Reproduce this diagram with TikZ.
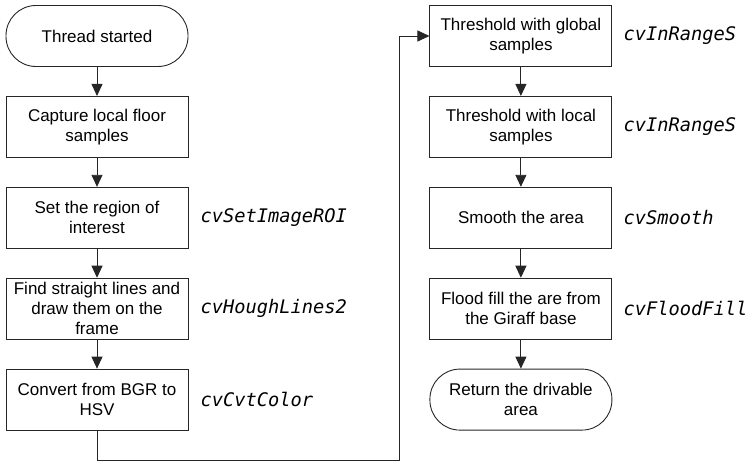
\documentclass[tikz,border=0pt]{standalone}
\usepackage{fontspec}
\setmainfont{Liberation Sans}
\setmonofont{DejaVu Sans Mono}[ItalicFont={DejaVu Sans Mono Oblique}]
\usetikzlibrary{positioning,arrows.meta}

\begin{document}
\begin{tikzpicture}[x=1pt, y=1pt, node distance=29pt and 12pt,
        every node/.style={font=\fontsize{17}{20}\selectfont},
        etape/.style={draw=black!85, line width=0.9pt, minimum width=182pt, minimum height=61pt, align=center, inner sep=2pt},
        terminal/.style={etape, rounded corners=30pt},
        fonction/.style={font=\fontsize{18.7}{22}\selectfont\ttfamily\itshape, inner sep=0pt},
        fleche/.style={draw=black!85, line width=0.9pt, -{Triangle[length=12pt, width=11pt]}}]
        \useasboundingbox (0,0) rectangle (752,-462);

        % Les étapes
        \node (0) [terminal] at (97,-36) {Thread started};
        \node (1) [etape, below=of 0] {Capture local floor\\samples};
        \node (2) [etape, below=of 1] {Set the region of\\interest};
        \node (3) [etape, below=of 2] {Find straight lines and\\draw them on the\\frame};
        \node (4) [etape, below=of 3] {Convert from BGR to\\HSV};
        \node (5) [etape, right=241pt of 0] {Threshold with global\\samples};
        \node (6) [etape, below=of 5] {Threshold with local\\samples};
        \node (7) [etape, below=of 6] {Smooth the area};
        \node (8) [etape, below=of 7] {Flood fill the are from\\the Giraff base};
        \node (9) [terminal, below=of 8] {Return the drivable\\area};

        % Les fonctions
        \node (f2) [fonction, right=of 2] {cvSetImageROI};
        \node (f3) [fonction, right=of 3] {cvHoughLines2};
        \node (f4) [fonction, right=of 4] {cvCvtColor};
        \node (f5) [fonction, right=11pt of 5] {cvInRangeS};
        \node (f6) [fonction, right=11pt of 6] {cvInRangeS};
        \node (f7) [fonction, right=11pt of 7] {cvSmooth};
        \node (f8) [fonction, right=11pt of 8] {cvFloodFill};

        % Les flèches
        \draw[fleche] (0) -- (1);
        \draw[fleche] (1) -- (2);
        \draw[fleche] (2) -- (3);
        \draw[fleche] (3) -- (4);
        \draw[fleche] (4.south) -- ++(0,-29.5) -| ([xshift=-30pt]5.west) -- (5.west);
        \draw[fleche] (5) -- (6);
        \draw[fleche] (6) -- (7);
        \draw[fleche] (7) -- (8);
        \draw[fleche] (8) -- (9);
    \end{tikzpicture}
\end{document}
